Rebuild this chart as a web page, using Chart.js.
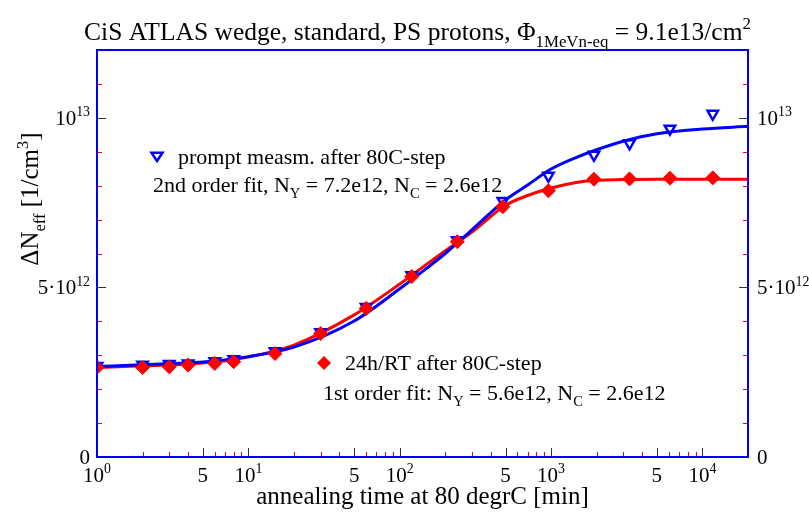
<!DOCTYPE html>
<html><head><meta charset="utf-8">
<script src="https://cdn.jsdelivr.net/npm/chart.js@4.4.0/dist/chart.umd.min.js"></script>
<style>html,body{margin:0;padding:0;background:#fff;overflow:hidden}#wrap{width:809px;height:513px;position:relative}</style>
</head><body><div id="wrap"><canvas id="c" width="809" height="513"></canvas></div>
<script>
// ---- data (y values in units of 1e12 cm^-3) ----
const times  = [1,2,3,4,6,8,15,30,60,120,240,480,960,1920,3300,6100,11700];
const prompt = [2.68,2.72,2.74,2.76,2.82,2.88,3.12,3.68,4.42,5.36,6.39,7.55,8.29,8.91,9.25,9.68,10.12];
const rt24   = [2.64,2.64,2.66,2.71,2.76,2.81,3.05,3.64,4.38,5.32,6.35,7.38,7.85,8.19,8.20,8.22,8.23];
const fitTimes = [1,2,5,10,20,50,100,150,200,300,500,700,1000,1500,2000,3000,5000,10000,20000];
const fit2nd   = [2.67,2.72,2.80,2.96,3.24,4.01,4.96,5.56,6.00,6.70,7.58,8.02,8.49,8.85,9.06,9.31,9.53,9.67,9.75];
const fit1st   = [2.64,2.69,2.77,2.95,3.30,4.19,5.10,5.68,6.08,6.63,7.42,7.71,7.93,8.10,8.16,8.18,8.19,8.19,8.19];
const xTickValues = [1,5,10,50,100,500,1000,5000,10000];
const xTickLabels = ['10^{0}','5','10^{1}','5','10^{2}','5','10^{3}','5','10^{4}'];
const yTickValues = [0,5,10];
const yTickLabels = ['0','5\u00B710^{12}','10^{13}'];
const titleText = 'CiS ATLAS wedge, standard, PS protons, \u03A6_{1MeVn-eq} = 9.1e13/cm^{2}';
const xTitle = 'annealing time at 80 degrC [min]';
const yTitle = '\u0394N_{eff} [1/cm^{3}]';
const legend1 = ['prompt measm. after 80C-step','2nd order fit, N_{Y} = 7.2e12, N_{C} = 2.6e12'];
const legend2 = ['24h/RT after 80C-step','1st order fit: N_{Y} = 5.6e12, N_{C} = 2.6e12'];

const FONT = '"Liberation Serif", "Times New Roman", serif';
const BLUE = '#0000ff', RED = '#ff0000';

function parseRich(s){
  const out=[]; let i=0, buf='';
  while(i<s.length){
    const c=s[i];
    if((c==='_'||c==='^') && s[i+1]==='{'){
      if(buf){out.push({t:buf,k:0});buf='';}
      const j=s.indexOf('}',i);
      out.push({t:s.slice(i+2,j),k:c==='_'?-1:1});
      i=j+1;
    } else {buf+=c;i++;}
  }
  if(buf) out.push({t:buf,k:0});
  return out;
}
function drawRich(ctx,s,x,y,size,align,color){
  const parts=parseRich(s); const small=size*0.66;
  let w=0;
  parts.forEach(p=>{ctx.font=(p.k?small:size)+'px '+FONT; p.w=ctx.measureText(p.t).width; w+=p.w;});
  let cx = align==='center'? x-w/2 : align==='right'? x-w : x;
  ctx.fillStyle=color||'#000'; ctx.textBaseline='alphabetic'; ctx.textAlign='left';
  parts.forEach(p=>{
    ctx.font=(p.k?small:size)+'px '+FONT;
    const dy = p.k===1? -size*0.42 : p.k===-1? size*0.28 : 0;
    ctx.fillText(p.t,cx,y+dy); cx+=p.w;
  });
  return w;
}

const decor = {
  id:'decor',
  afterDraw(chart){
    const ctx=chart.ctx, a=chart.chartArea, xs=chart.scales.x, ys=chart.scales.y;
    ctx.save();
    const xmin=xs.min, xmax=xs.max;
    ctx.lineWidth=1;
    for(let d=1; d<=xmax; d*=10){
      for(let m=1;m<10;m++){
        const v=d*m; if(v<=xmin||v>=xmax) continue;
        const px=Math.round(xs.getPixelForValue(v))+0.5;
        const major=(m===1||m===5);
        ctx.strokeStyle=major?'#333':RED;
        ctx.beginPath(); ctx.moveTo(px,a.bottom); ctx.lineTo(px,a.bottom-(major?9:5)); ctx.stroke();
      }
    }
    for(let v=1; v<ys.max; v++){
      const py=Math.round(ys.getPixelForValue(v))+0.5;
      const major=(v%5===0);
      ctx.strokeStyle=major?'#333':RED;
      ctx.beginPath(); ctx.moveTo(a.left,py); ctx.lineTo(a.left+(major?9:5),py); ctx.stroke();
      ctx.beginPath(); ctx.moveTo(a.right,py); ctx.lineTo(a.right-(major?9:5),py); ctx.stroke();
    }
    ctx.strokeStyle=BLUE; ctx.lineWidth=2;
    ctx.strokeRect(a.left,a.top,a.right-a.left,a.bottom-a.top);
    xTickValues.forEach((v,i)=>{
      drawRich(ctx,xTickLabels[i],xs.getPixelForValue(v),482,21,'center');
    });
    yTickValues.forEach((v,i)=>{
      const py=ys.getPixelForValue(v);
      drawRich(ctx,yTickLabels[i],a.left-7,py+7,21,'right');
      drawRich(ctx,yTickLabels[i],a.right+9,py+7,21,'left');
    });
    drawRich(ctx,xTitle,(a.left+a.right)/2,504,25,'center');
    ctx.save(); ctx.translate(38,199); ctx.rotate(-Math.PI/2);
    drawRich(ctx,yTitle,0,0,25,'center'); ctx.restore();
    drawRich(ctx,titleText,417.5,40,25.5,'center');
    ctx.save();
    ctx.strokeStyle=BLUE; ctx.lineWidth=2.5;
    const tx=157, ty=156, r=5.5;
    ctx.beginPath(); ctx.moveTo(tx-r,ty-r*0.6); ctx.lineTo(tx+r,ty-r*0.6); ctx.lineTo(tx,ty+r*0.9); ctx.closePath(); ctx.stroke();
    ctx.restore();
    drawRich(ctx,legend1[0],178,164,22,'left');
    drawRich(ctx,legend1[1],153,192,22,'left');
    ctx.fillStyle=RED; ctx.beginPath();
    const dx=324, dy=363, s=7;
    ctx.moveTo(dx,dy-s); ctx.lineTo(dx+s,dy); ctx.lineTo(dx,dy+s); ctx.lineTo(dx-s,dy); ctx.closePath(); ctx.fill();
    drawRich(ctx,legend2[0],345,370,22,'left');
    drawRich(ctx,legend2[1],323,400,22,'left');
    ctx.restore();
  }
};

const xy=(xs,ys)=>xs.map((x,i)=>({x:x,y:ys[i]}));
new Chart(document.getElementById('c'),{
  type:'line',
  data:{datasets:[
    {label:'1st order fit',data:xy(fitTimes,fit1st),borderColor:RED,borderWidth:3,pointRadius:0,cubicInterpolationMode:'monotone',order:4},
    {label:'2nd order fit',data:xy(fitTimes,fit2nd),borderColor:BLUE,borderWidth:3,pointRadius:0,cubicInterpolationMode:'monotone',order:3},
    {label:'24h/RT after 80C-step',data:xy(times,rt24),showLine:false,pointStyle:'rectRot',pointRadius:7,pointBackgroundColor:RED,pointBorderColor:RED,pointBorderWidth:1,order:1},
    {label:'prompt measm. after 80C-step',data:xy(times,prompt),showLine:false,pointStyle:'triangle',rotation:180,pointRadius:6,pointBackgroundColor:'rgba(0,0,0,0)',pointBorderColor:BLUE,pointBorderWidth:2.5,order:2}
  ]},
  options:{
    responsive:false, animation:false, devicePixelRatio:1,
    layout:{padding:{top:50,left:0,right:0,bottom:0}},
    plugins:{legend:{display:false},title:{display:false},tooltip:{enabled:false}},
    scales:{
      x:{type:'logarithmic',min:1,max:20000,position:'bottom',grid:{display:false},border:{display:false},ticks:{display:false},afterFit(s){s.height=56;}},
      y:{type:'linear',min:0,max:12,position:'left',grid:{display:false},border:{display:false},ticks:{display:false},afterFit(s){s.width=97;}},
      y2:{type:'linear',min:0,max:12,position:'right',grid:{display:false},border:{display:false},ticks:{display:false},afterFit(s){s.width=61;}}
    }
  },
  plugins:[decor]
});
</script></body></html>
